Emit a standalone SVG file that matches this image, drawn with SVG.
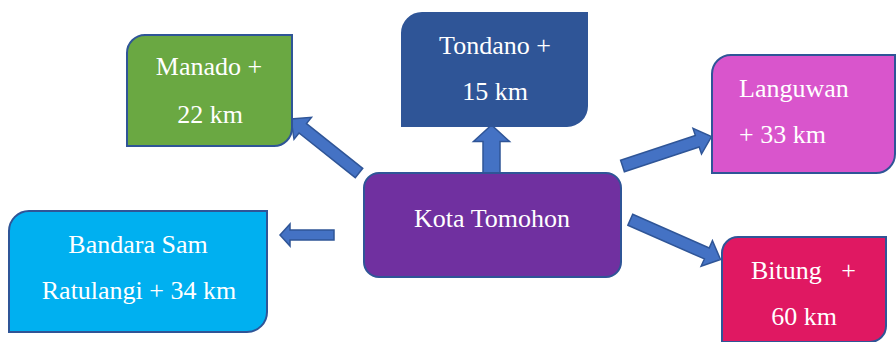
<svg xmlns="http://www.w3.org/2000/svg" width="896" height="342" viewBox="0 0 896 342">
<style>
.box{stroke:#2F5597;stroke-width:2}
.t{font-family:"Liberation Serif","Times New Roman",serif;font-size:26px;fill:#ffffff;text-anchor:middle}
.ts{text-anchor:start}
.arr{fill:#4472C4;stroke:#2F5597;stroke-width:1.5;stroke-linejoin:miter}
</style>
<rect width="896" height="342" fill="#ffffff"/>
<g id="connectors">
<polygon class="arr" points="362.73,168.30 306.48,123.63 311.46,117.37 291,119 294.04,139.29 299.02,133.03 355.27,177.70"/>
<polygon class="arr" points="483,175 483,141.5 473.5,141.5 491.5,125 509.5,141.5 500,141.5 500,175"/>
<polygon class="arr" points="624.39,171.70 699.15,146.92 701.51,154.03 711.5,136.5 693.01,128.41 695.37,135.52 620.61,160.30"/>
<polygon class="arr" points="334,230 290,230 290,224 280,235 290,246 290,240 334,240"/>
<polygon class="arr" points="627.88,225.19 704.36,258.93 701.13,266.25 720.5,259.5 712.43,240.63 709.20,247.95 632.72,214.21"/>
</g>
<g id="manado">
<path class="box" fill="#6AA842" d="M145,35 H292 V128 A18,18 0 0 1 274,146 H127 V53 A18,18 0 0 1 145,35 Z"/>
<text class="t" x="209" y="75">Manado +</text>
<text class="t" x="210" y="123">22 km</text>
</g>
<g id="tondano">
<path class="box" fill="#2F5597" d="M422,13 H587 V106 A20,20 0 0 1 567,126 H402 V33 A20,20 0 0 1 422,13 Z"/>
<text class="t" x="495" y="54">Tondano +</text>
<text class="t" x="495" y="100">15 km</text>
</g>
<g id="languwan">
<path class="box" fill="#D955CC" d="M731,55 H895 V154 A19,19 0 0 1 876,173 H712 V74 A19,19 0 0 1 731,55 Z"/>
<text class="t ts" x="739" y="97">Languwan</text>
<text class="t ts" x="739" y="143">+ 33 km</text>
</g>
<g id="kota-tomohon">
<rect class="box" fill="#7030A0" x="364" y="173" width="257" height="104" rx="15" ry="15"/>
<text class="t" x="492" y="227">Kota Tomohon</text>
</g>
<g id="bandara">
<path class="box" fill="#00B0F0" d="M29,211 H267 V312 A20,20 0 0 1 247,332 H9 V231 A20,20 0 0 1 29,211 Z"/>
<text class="t" x="138" y="253">Bandara Sam</text>
<text class="t" x="139" y="299">Ratulangi + 34 km</text>
</g>
<g id="bitung">
<path class="box" fill="#E01862" d="M738,237 H886 V326 A16,16 0 0 1 870,342 H722 V253 A16,16 0 0 1 738,237 Z"/>
<text class="t ts" x="751" y="279" style="white-space:pre">Bitung   +</text>
<text class="t" x="804" y="325">60 km</text>
</g>
</svg>
